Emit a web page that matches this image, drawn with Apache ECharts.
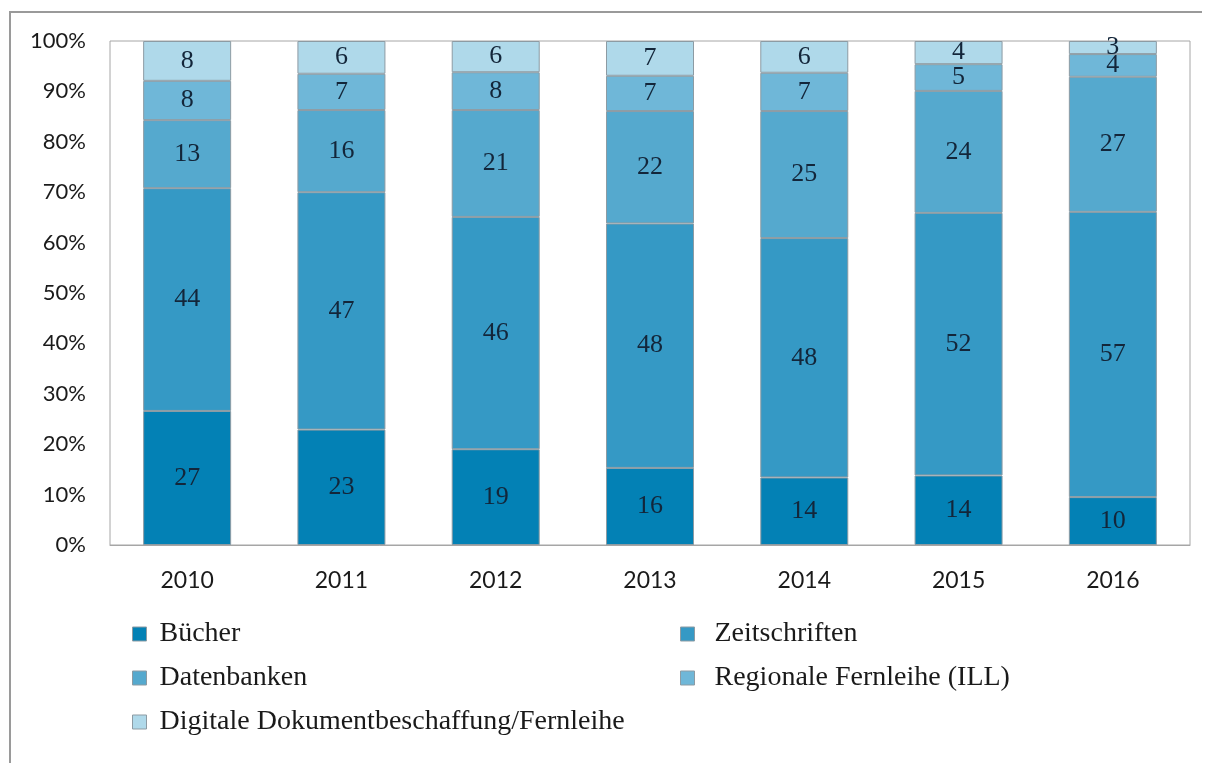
<!DOCTYPE html>
<html>
<head>
<meta charset="utf-8">
<script src="https://cdn.jsdelivr.net/npm/echarts@6/dist/echarts.min.js"></script>
<style>
  html, body { margin: 0; padding: 0; background: #fff; }
  #main { width: 1210px; height: 763px; }
</style>
</head>
<body>
<div id="main"></div>
<script>
// Jahre
var years = ['2010', '2011', '2012', '2013', '2014', '2015', '2016'];
var yTicks = [0, 10, 20, 30, 40, 50, 60, 70, 80, 90, 100];

// Anteile in % (Balkenhöhen, aus dem Bild gelesen)
var buecher       = [26.6, 22.9, 19.0, 15.3, 13.4, 13.8, 9.5];
var zeitschriften = [44.2, 47.1, 46.1, 48.5, 47.5, 52.1, 56.6];
var datenbanken   = [13.5, 16.3, 21.2, 22.3, 25.2, 24.2, 26.8];
var regional      = [7.8, 7.2, 7.5, 7.0, 7.6, 5.3, 4.5];
var digital       = [7.9, 6.5, 6.2, 6.9, 6.3, 4.6, 2.6];

// gedruckte Werte in den Balken
var buecherLbl       = [27, 23, 19, 16, 14, 14, 10];
var zeitschriftenLbl = [44, 47, 46, 48, 48, 52, 57];
var datenbankenLbl   = [13, 16, 21, 22, 25, 24, 27];
var regionalLbl      = [8, 7, 8, 7, 7, 5, 4];
var digitalLbl       = [8, 6, 6, 7, 6, 4, 3];

var names = ['Bücher', 'Zeitschriften', 'Datenbanken', 'Regionale Fernleihe (ILL)', 'Digitale Dokumentbeschaffung/Fernleihe'];
var colors = ['#0381b5', '#3599c5', '#55a9ce', '#6fb7d8', '#afd9ea'];

var serif = '"Liberation Serif", "DejaVu Serif", serif';
var sans = 'Lato, "Open Sans", sans-serif';

function makeSeries(name, color, values, labels) {
    return {
        name: name,
        type: 'bar',
        stack: 'total',
        barWidth: 88,
        data: values,
        itemStyle: { color: color, borderColor: '#8d9ba3', borderWidth: 1 },
        label: {
            show: true,
            position: 'inside',
            color: '#13263a',
            fontFamily: serif,
            fontSize: 26,
            formatter: function (p) { return labels[p.dataIndex]; }
        }
    };
}

var myChart = echarts.init(document.getElementById('main'));

var legendBase = {
    orient: 'vertical',
    top: 615,
    itemWidth: 14, itemHeight: 14, itemGap: 16,
    icon: 'rect',
    itemStyle: { borderColor: '#8d9ba3', borderWidth: 1 }
};

var option = {
    animation: false,
    color: colors,
    graphic: [{
        type: 'polyline',
        shape: { points: [[10, 770], [10, 12], [1202, 12]] },
        style: { stroke: '#9a9a9a', lineWidth: 2, fill: null }
    }],
    grid: {
        left: 110, right: 20, top: 41, bottom: 218,
        show: true, borderColor: '#a6a6a6', borderWidth: 1
    },
    legend: [
        Object.assign({}, legendBase, {
            left: 127,
            textStyle: { fontFamily: serif, fontSize: 28, color: '#1a1a1a', padding: [0, 0, 0, 8] },
            data: [names[0], names[2], names[4]]
        }),
        Object.assign({}, legendBase, {
            left: 675,
            textStyle: { fontFamily: serif, fontSize: 28, color: '#1a1a1a', padding: [0, 0, 0, 15] },
            data: [names[1], names[3]]
        })
    ],
    xAxis: {
        type: 'category',
        data: years,
        axisLine: { lineStyle: { color: '#a6a6a6' } },
        axisTick: { show: false },
        axisLabel: { fontFamily: sans, fontSize: 23, color: '#1a1a1a', margin: 24 }
    },
    yAxis: {
        type: 'value',
        min: yTicks[0],
        max: yTicks[yTicks.length - 1],
        interval: yTicks[1] - yTicks[0],
        splitLine: { show: false },
        axisLine: { show: false },
        axisTick: { show: false },
        axisLabel: {
            fontFamily: sans,
            fontSize: 22, color: '#1a1a1a', margin: 24,
            formatter: '{value}%'
        }
    },
    series: [
        makeSeries(names[0], colors[0], buecher, buecherLbl),
        makeSeries(names[1], colors[1], zeitschriften, zeitschriftenLbl),
        makeSeries(names[2], colors[2], datenbanken, datenbankenLbl),
        makeSeries(names[3], colors[3], regional, regionalLbl),
        makeSeries(names[4], colors[4], digital, digitalLbl)
    ]
};

myChart.setOption(option);
</script>
</body>
</html>
